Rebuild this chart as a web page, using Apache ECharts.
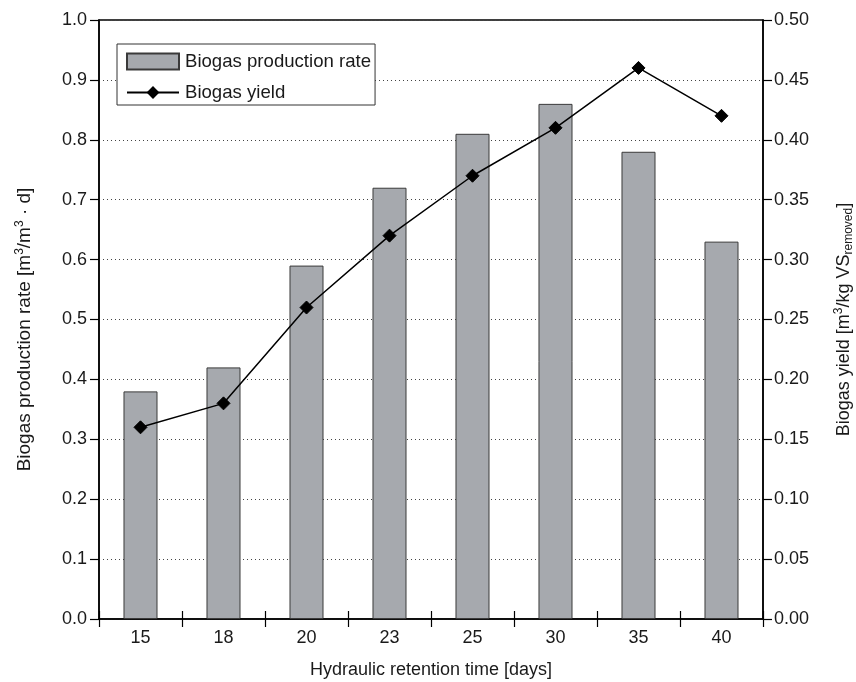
<!DOCTYPE html>
<html><head><meta charset="utf-8">
<script src="https://cdn.jsdelivr.net/npm/echarts@6/dist/echarts.min.js"></script>
<style>html,body{margin:0;padding:0;background:#fff}#c{width:856px;height:682px}</style>
</head><body><div id="c"></div>
<script>
const categories = ['15','18','20','23','25','30','35','40'];
const productionRate = [0.38, 0.42, 0.59, 0.72, 0.81, 0.86, 0.78, 0.63];
const biogasYield = [0.16, 0.18, 0.26, 0.32, 0.37, 0.41, 0.46, 0.42];
const leftTicks = {min: 0, max: 1.0, interval: 0.1};
const rightTicks = {min: 0, max: 0.5, interval: 0.05};

const FONT = 'Liberation Sans, Arial, sans-serif';
const TXT = '#1a1a1a';
const chart = echarts.init(document.getElementById('c'), null, {renderer: 'canvas'});
const axisLine = {show: true, lineStyle: {color: '#000', width: 1.5}};
chart.setOption({
  animation: false,
  textStyle: {fontFamily: FONT},
  grid: {left: 99, right: 93, top: 20, bottom: 63, show: true, borderColor: '#000', borderWidth: 1.5,
         backgroundColor: 'transparent', containLabel: false, outerBoundsMode: 'none'},
  legend: {
    left: 117, top: 44, orient: 'vertical',
    backgroundColor: '#fff', borderColor: '#333', borderWidth: 1,
    padding: [8, 4, 3, 9], itemGap: 12, itemWidth: 52, itemHeight: 16,
    textStyle: {fontSize: 18.6, color: TXT, fontFamily: FONT, padding: [0, 0, 0, 1]},
    data: [{name: 'Biogas production rate', icon: 'rect'}, {name: 'Biogas yield'}]
  },
  xAxis: [{
    type: 'category', data: categories, boundaryGap: true,
    axisLine: axisLine,
    axisTick: {show: true, length: 8, lineStyle: {color: '#000', width: 1.2}},
    axisLabel: {fontSize: 18, color: TXT, margin: 10, fontFamily: FONT},
    name: 'Hydraulic retention time [days]', nameLocation: 'middle', nameGap: 42,
    nameTextStyle: {fontSize: 18, color: TXT, fontFamily: FONT}
  }, {
    type: 'category', data: categories, boundaryGap: true, position: 'bottom',
    axisLine: {show: false}, axisLabel: {show: false},
    axisTick: {show: true, inside: true, length: 8, lineStyle: {color: '#000', width: 1.2}}
  }],
  yAxis: [{
    type: 'value', min: leftTicks.min, max: leftTicks.max, interval: leftTicks.interval,
    axisLine: axisLine,
    axisTick: {show: true, length: 9, lineStyle: {color: '#000', width: 1.2}},
    axisLabel: {fontSize: 18, color: TXT, margin: 12, fontFamily: FONT, formatter: v => v.toFixed(1)},
    splitLine: {show: true, lineStyle: {color: '#444', width: 1, type: [1, 3]}},
    name: '{a|Biogas production rate [m}{s|3}{a|/m}{s|3}{a| · d]}', nameLocation: 'middle', nameGap: 63, nameRotate: 90,
    nameTextStyle: {
      fontSize: 19, color: TXT, fontFamily: FONT, padding: [0, 20, 0, 0],
      rich: {
        a: {fontSize: 19, color: TXT, fontFamily: FONT, lineHeight: 22, verticalAlign: 'middle'},
        s: {fontSize: 12, color: TXT, fontFamily: FONT, lineHeight: 22, verticalAlign: 'top', padding: [0, 0, 6, 0]}
      }
    }
  }, {
    type: 'value', min: rightTicks.min, max: rightTicks.max, interval: rightTicks.interval,
    position: 'right',
    axisLine: axisLine,
    axisTick: {show: true, length: 9, lineStyle: {color: '#000', width: 1.2}},
    axisLabel: {fontSize: 18, color: TXT, margin: 11, fontFamily: FONT, formatter: v => v.toFixed(2)},
    splitLine: {show: false},
    name: '{a|Biogas yield [m}{s|3}{a|/kg VS}{b|removed}{a|]}', nameLocation: 'middle', nameGap: 70, nameRotate: 90,
    nameTextStyle: {
      fontSize: 18, color: TXT, fontFamily: FONT,
      rich: {
        a: {fontSize: 18, color: TXT, fontFamily: FONT, lineHeight: 22, verticalAlign: 'middle'},
        s: {fontSize: 12, color: TXT, fontFamily: FONT, lineHeight: 22, verticalAlign: 'top', padding: [0, 0, 6, 0]},
        b: {fontSize: 12, color: TXT, fontFamily: FONT, lineHeight: 22, verticalAlign: 'bottom', padding: [6, 0, 0, 0]}
      }
    }
  }],
  series: [{
    name: 'Biogas production rate', type: 'bar', data: productionRate,
    xAxisIndex: 0, yAxisIndex: 0, barWidth: '41%',
    itemStyle: {color: '#a6a9ae', borderColor: '#3a3a3a', borderWidth: 1}
  }, {
    name: 'Biogas yield', type: 'line', data: biogasYield,
    xAxisIndex: 0, yAxisIndex: 1,
    symbol: 'diamond', symbolSize: 13, showSymbol: true,
    lineStyle: {color: '#000', width: 1.5},
    itemStyle: {color: '#000', borderColor: '#000'}, z: 5
  }]
});
</script></body></html>
